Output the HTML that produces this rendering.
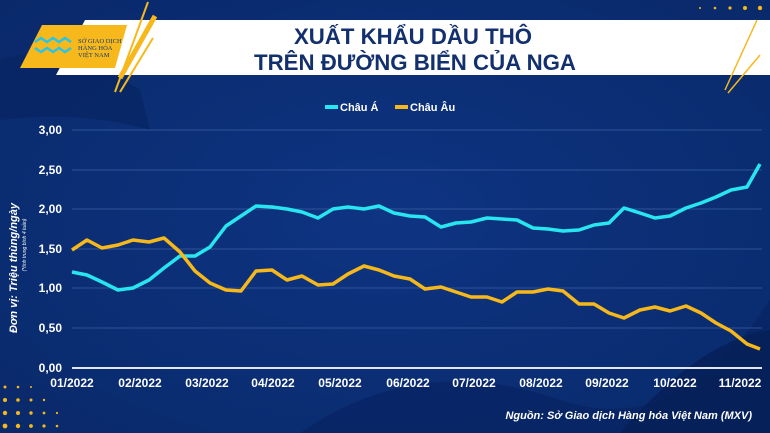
<!DOCTYPE html>
<html><head><meta charset="utf-8"><style>
body{margin:0;width:770px;height:433px;overflow:hidden;background:#0b2d72;font-family:"Liberation Sans",sans-serif}
</style></head><body>
<svg width="770" height="433" xmlns="http://www.w3.org/2000/svg" style="position:absolute;left:0;top:0">
<defs>
<radialGradient id="bg" cx="0.5" cy="0.5" r="0.7"><stop offset="0" stop-color="#0e3482"/><stop offset="1" stop-color="#09296a"/></radialGradient>
</defs>
<rect width="770" height="433" fill="url(#bg)"/>
<path d="M0 60 Q60 40 140 90 L150 130 Q80 110 0 120Z" fill="#07235f" opacity="0.6"/>
<path d="M100 0 Q170 30 250 20 L330 0Z" fill="#0a2a70" opacity="0.5"/>
<path d="M300 433 Q420 350 560 400 Q680 440 770 300 L770 433Z" fill="#072463" opacity="0.7"/>
<path d="M620 433 Q700 340 770 330 L770 433Z" fill="#061f57" opacity="0.8"/>
<g fill="#f6b81a">
<circle cx="700" cy="8" r="1"/><circle cx="715" cy="8" r="1.3"/><circle cx="730" cy="8" r="1.6"/><circle cx="745" cy="8" r="2"/><circle cx="760" cy="8" r="2.2"/>
<circle cx="715" cy="22" r="1"/><circle cx="730" cy="22" r="1.4"/><circle cx="745" cy="22" r="1.8"/><circle cx="760" cy="22" r="2"/>
<circle cx="745" cy="36" r="1.2"/><circle cx="760" cy="36" r="1.6"/>
<circle cx="5" cy="400" r="2"/><circle cx="18" cy="400" r="1.8"/><circle cx="31" cy="400" r="1.5"/><circle cx="44" cy="400" r="1.2"/>
<circle cx="5" cy="413" r="2.2"/><circle cx="18" cy="413" r="2"/><circle cx="31" cy="413" r="1.7"/><circle cx="44" cy="413" r="1.4"/><circle cx="57" cy="413" r="1.1"/>
<circle cx="5" cy="426" r="2.4"/><circle cx="18" cy="426" r="2.2"/><circle cx="31" cy="426" r="1.9"/><circle cx="44" cy="426" r="1.6"/><circle cx="57" cy="426" r="1.3"/>
<circle cx="5" cy="387" r="1.5"/><circle cx="18" cy="387" r="1.3"/><circle cx="31" cy="387" r="1"/>
</g>
<polygon points="85,20 770,20 770,75 757,75 730,75 56,75" fill="#fff"/>
<polygon points="42,25 127,25 115,68 20,68" fill="#f6b81a"/>
<line x1="148" y1="2" x2="115" y2="92" stroke="#f6b81a" stroke-width="2"/>
<line x1="155" y1="16" x2="120" y2="78" stroke="#f6b81a" stroke-width="5"/>
<line x1="153" y1="38" x2="120" y2="92" stroke="#f6b81a" stroke-width="2"/>
<line x1="757" y1="20" x2="725" y2="90" stroke="#f6b81a" stroke-width="1.5"/>
<line x1="760" y1="55" x2="728" y2="93" stroke="#f6b81a" stroke-width="1.5"/>
<path d="M35 42 l6 -4 l6 4 l6 -4 l6 4 l6 -4 l6 4 M35 48 l6 4 l6 -4 l6 4 l6 -4 l6 4 l6 -4" fill="none" stroke="#29c5e8" stroke-width="2.5"/>
<text x="78" y="43" font-size="6.5" fill="#123a7a" font-family="Liberation Serif,serif">SỞ GIAO DỊCH</text>
<text x="78" y="50" font-size="6.5" fill="#123a7a" font-family="Liberation Serif,serif">HÀNG HÓA</text>
<text x="78" y="57" font-size="6.5" fill="#123a7a" font-family="Liberation Serif,serif">VIỆT NAM</text>
<text x="413" y="44" font-size="22" font-weight="bold" fill="#13306e" text-anchor="middle" textLength="238" lengthAdjust="spacingAndGlyphs">XUẤT KHẨU DẦU THÔ</text>
<text x="415" y="70" font-size="22" font-weight="bold" fill="#13306e" text-anchor="middle" textLength="322" lengthAdjust="spacingAndGlyphs">TRÊN ĐƯỜNG BIỂN CỦA NGA</text>
<line x1="325" y1="107" x2="338" y2="107" stroke="#28e6f0" stroke-width="4"/>
<text x="340" y="111" font-size="11" font-weight="bold" fill="#fff">Châu Á</text>
<line x1="395" y1="107" x2="408" y2="107" stroke="#f6b81a" stroke-width="4"/>
<text x="410" y="111" font-size="11" font-weight="bold" fill="#fff">Châu Âu</text>
<g stroke="#3e62a6" stroke-width="1" opacity="0.7">
<line x1="72" y1="130" x2="762" y2="130"/><line x1="72" y1="170" x2="762" y2="170"/><line x1="72" y1="209" x2="762" y2="209"/><line x1="72" y1="249" x2="762" y2="249"/><line x1="72" y1="288" x2="762" y2="288"/><line x1="72" y1="328" x2="762" y2="328"/>
</g>
<line x1="72" y1="368" x2="762" y2="368" stroke="#e0e6f0" stroke-width="2"/>
<g font-size="12" font-weight="bold" fill="#fff" text-anchor="end">
<text x="62" y="134">3,00</text><text x="62" y="174">2,50</text><text x="62" y="213">2,00</text><text x="62" y="253">1,50</text><text x="62" y="292">1,00</text><text x="62" y="332">0,50</text><text x="62" y="372">0,00</text>
</g>
<g font-size="12" font-weight="bold" fill="#fff" text-anchor="middle">
<text x="72" y="387">01/2022</text><text x="140" y="387">02/2022</text><text x="207" y="387">03/2022</text><text x="273" y="387">04/2022</text><text x="340" y="387">05/2022</text><text x="408" y="387">06/2022</text><text x="474" y="387">07/2022</text><text x="541" y="387">08/2022</text><text x="607" y="387">09/2022</text><text x="675" y="387">10/2022</text><text x="740" y="387">11/2022</text>
</g>
<text transform="translate(17,268) rotate(-90)" font-size="11" font-weight="bold" font-style="italic" fill="#fff" text-anchor="middle">Đơn vị: Triệu thùng/ngày</text>
<text transform="translate(26,245) rotate(-90)" font-size="5" font-style="italic" fill="#fff" text-anchor="middle">(*tính trung bình 4 tuần)</text>
<polyline fill="none" stroke="#28e6f0" stroke-width="3.5" stroke-linejoin="round" points="72,272 87,275 102,282 118,290 133,288 149,280 164,268 180,256 195,256 210,247 226,226 241,216 256,206 272,207 287,209 302,212 318,218 333,209 348,207 364,209 379,206 394,213 410,216 425,217 441,227 456,223 471,222 487,218 502,219 517,220 533,228 548,229 563,231 579,230 594,225 609,223 624,208 640,213 655,218 670,216 686,208 701,203 716,197 731,190 747,187 760,164"/>
<polyline fill="none" stroke="#f6b81a" stroke-width="3.5" stroke-linejoin="round" points="72,250 87,240 102,248 118,245 133,240 149,242 164,238 180,252 195,271 210,283 226,290 241,291 256,271 272,270 287,280 302,276 318,285 333,284 348,274 364,266 379,270 394,276 410,279 425,289 441,287 456,292 471,297 487,297 502,302 517,292 533,292 548,289 563,291 579,304 594,304 609,313 624,318 640,310 655,307 670,311 686,306 701,313 716,323 731,331 747,344 760,349"/>
<text x="752" y="419" font-size="11" font-weight="bold" font-style="italic" fill="#fff" text-anchor="end">Nguồn: Sở Giao dịch Hàng hóa Việt Nam (MXV)</text>
</svg>
</body></html>
